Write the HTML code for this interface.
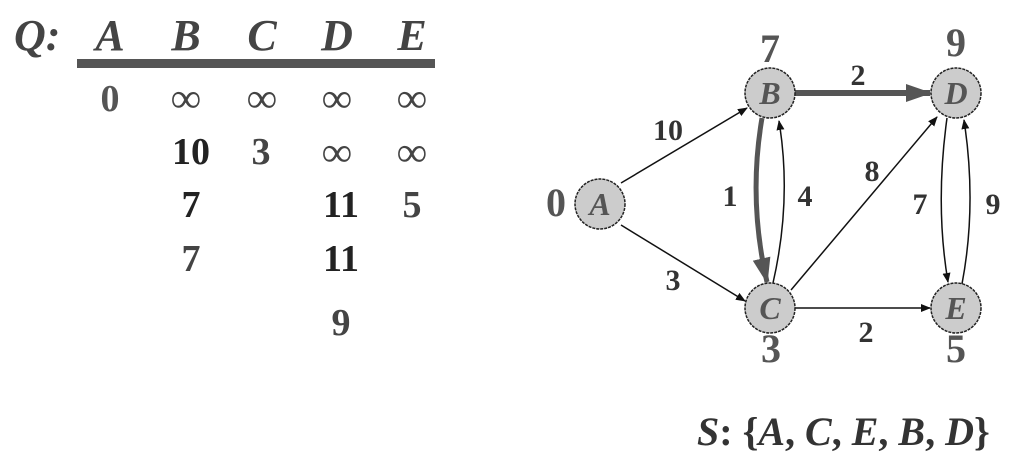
<!DOCTYPE html>
<html><head><style>
html,body{margin:0;padding:0;background:#fff;}
svg{display:block;}
text{font-family:"Liberation Serif","Times New Roman",Times,serif;font-weight:bold;}
</style></head><body>
<svg width="1013" height="463" viewBox="0 0 1013 463" xmlns="http://www.w3.org/2000/svg">
<defs>
<marker id="ab" markerWidth="10" markerHeight="8" refX="9" refY="4" orient="auto" markerUnits="userSpaceOnUse"><path d="M0,0 L10,4 L0,8 z" fill="#111"/></marker>
<marker id="ag" markerWidth="26" markerHeight="18" refX="24" refY="9" orient="auto" markerUnits="userSpaceOnUse"><path d="M0,0 L26,9 L0,18 z" fill="#555"/></marker>
</defs>
<g font-style="italic" font-size="44" fill="#444" font-family="Liberation Serif, serif">
<text x="14" y="50">Q:</text>
<text x="110" y="50" text-anchor="middle">A</text>
<text x="186" y="50" text-anchor="middle">B</text>
<text x="262" y="50" text-anchor="middle">C</text>
<text x="337" y="50" text-anchor="middle">D</text>
<text x="412" y="50" text-anchor="middle">E</text>
</g>
<rect x="77" y="59" width="358" height="9" fill="#555"/>
<g font-size="38" text-anchor="middle">
<text x="110" y="111" fill="#555">0</text>
<g font-weight="normal" font-size="42" fill="#444">
<text x="186" y="112">∞</text>
<text x="262" y="112">∞</text>
<text x="337" y="112">∞</text>
<text x="412" y="112">∞</text>
<text x="337" y="166">∞</text>
<text x="412" y="166">∞</text>
</g>
<text x="191" y="164" fill="#222">10</text>
<text x="261" y="164" fill="#444">3</text>
<text x="191" y="217" fill="#222">7</text>
<text x="341" y="217" fill="#222">11</text>
<text x="412" y="217" fill="#444">5</text>
<text x="191" y="271" fill="#444">7</text>
<text x="341" y="271" fill="#222">11</text>
<text x="341" y="335" fill="#444">9</text>
</g>
<g fill="none" stroke="#111" stroke-width="1.5">
<line x1="621" y1="183" x2="747" y2="108" marker-end="url(#ab)"/>
<line x1="621" y1="225" x2="745" y2="301" marker-end="url(#ab)"/>
<path d="M773,283 Q792,200 779,121" marker-end="url(#ab)"/>
<line x1="791" y1="290" x2="937" y2="117" marker-end="url(#ab)"/>
<line x1="795" y1="308" x2="930" y2="308" marker-end="url(#ab)"/>
<path d="M947,118 Q935,205 948,282" marker-end="url(#ab)"/>
<path d="M962,284 Q977,205 964,120" marker-end="url(#ab)"/>
</g>
<path d="M762,118 Q748,200 767,282" fill="none" stroke="#555" stroke-width="5" marker-end="url(#ag)"/>
<line x1="795" y1="93" x2="930" y2="93" stroke="#555" stroke-width="6" marker-end="url(#ag)"/>
<g fill="#ccc" stroke="#222" stroke-width="1.5" stroke-dasharray="3,1">
<circle cx="600" cy="204" r="25"/>
<circle cx="770" cy="93" r="25"/>
<circle cx="956" cy="93" r="25"/>
<circle cx="770" cy="308" r="25"/>
<circle cx="956" cy="308" r="25"/>
</g>
<g font-style="italic" font-size="32" fill="#555" text-anchor="middle">
<text x="600" y="215">A</text>
<text x="770" y="104">B</text>
<text x="956" y="104">D</text>
<text x="770" y="319">C</text>
<text x="956" y="319">E</text>
</g>
<g font-size="40" fill="#555" text-anchor="middle">
<text x="770" y="62">7</text>
<text x="956" y="56">9</text>
<text x="556" y="216">0</text>
<text x="771" y="362">3</text>
<text x="956" y="362">5</text>
</g>
<g font-size="30" fill="#333" text-anchor="middle">
<text x="668" y="140">10</text>
<text x="858" y="85">2</text>
<text x="730" y="206">1</text>
<text x="805" y="206">4</text>
<text x="872" y="181">8</text>
<text x="920" y="214">7</text>
<text x="993" y="214">9</text>
<text x="673" y="290">3</text>
<text x="866" y="342">2</text>
</g>
<text x="697" y="445" font-size="40" fill="#333" font-style="italic">S<tspan font-style="normal">: {</tspan>A<tspan font-style="normal">, </tspan>C<tspan font-style="normal">, </tspan>E<tspan font-style="normal">, </tspan>B<tspan font-style="normal">, </tspan>D<tspan font-style="normal">}</tspan></text>
</svg>
</body></html>
